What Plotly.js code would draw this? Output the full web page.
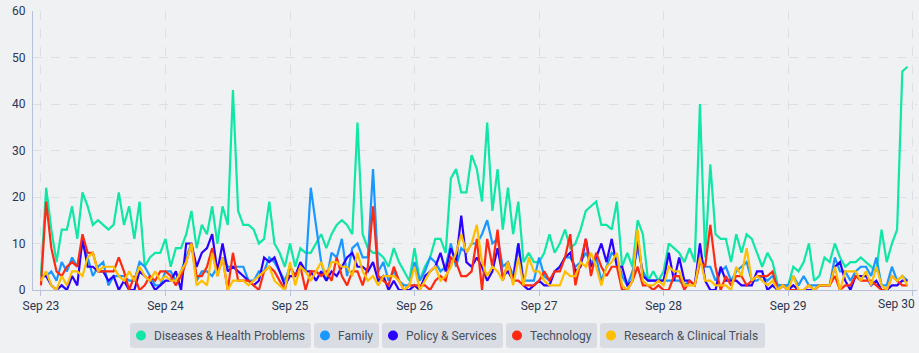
<!DOCTYPE html>
<html>
<head>
<meta charset="utf-8">
<script src="https://cdn.plot.ly/plotly-3.0.1.min.js"></script>
<style>
  html, body { margin: 0; padding: 0; background: #f0f1f3; }
  #chart { width: 919px; height: 353px; }
</style>
</head>
<body>
<div id="chart"></div>
<script>
// ---- Data (hourly counts, Sep 23 00:00 .. Sep 29 23:00) ----
const startTime = '2024-09-23T00:00:00';
const hoursCount = 168;

const seriesNames = ['Diseases & Health Problems', 'Family', 'Policy & Services', 'Technology', 'Research & Clinical Trials'];
const seriesColors = ['#10e6a6', '#1a98ff', '#2b00ff', '#ff2a12', '#ffbe00'];

const diseases = [
  3,22,13,6,13,13,18,11,21,18,14,15,14,13,14,21,14,18,11,19,5,7,8,8,
  11,5,9,9,12,17,9,14,12,18,10,18,14,43,17,14,14,13,10,11,19,10,8,5,
  10,5,9,8,8,10,12,9,12,14,15,14,12,36,12,9,8,8,7,5,9,6,4,2,
  9,2,5,7,11,11,8,24,26,21,21,29,26,19,36,17,26,13,22,12,19,6,8,6,
  6,8,12,8,10,13,9,10,13,17,18,19,14,14,13,19,5,8,5,15,12,2,4,2,
  4,10,9,8,6,9,6,40,7,27,12,11,11,6,12,8,12,11,8,5,8,6,1,1,
  1,5,4,6,10,2,3,7,6,10,7,5,6,6,7,6,5,4,13,6,10,13,47,48
];
const family = [
  3,3,4,2,6,4,7,5,10,7,3,5,6,1,3,3,3,2,2,6,5,3,1,1,
  4,4,2,4,7,10,2,4,4,3,5,7,5,5,5,5,2,2,4,4,7,6,4,2,
  5,3,5,4,22,14,6,2,8,7,11,3,9,10,7,7,26,4,6,2,4,2,1,1,
  6,2,4,7,6,4,5,10,5,9,8,10,10,12,15,10,11,5,6,3,10,2,2,2,
  7,3,2,4,5,7,7,5,6,8,6,7,2,5,8,7,3,1,4,9,4,2,2,2,
  2,2,2,2,1,2,1,7,5,5,2,4,5,2,4,5,6,2,2,3,2,3,1,1,
  1,3,1,3,1,1,1,1,1,7,4,4,2,4,5,5,3,7,1,1,5,2,3,2
];
const policy = [
  3,3,1,0,1,0,3,1,11,5,5,4,4,2,3,0,2,0,0,4,3,2,0,1,
  2,2,4,0,10,10,5,8,9,12,4,10,4,5,4,3,2,1,2,7,6,7,4,1,
  3,3,6,4,4,2,4,2,4,3,5,7,8,5,5,4,6,2,3,0,2,0,0,0,
  1,0,3,4,5,8,4,9,6,16,6,5,7,5,2,4,9,3,4,2,10,1,0,1,
  2,1,1,4,5,7,8,4,5,11,5,7,10,6,11,5,5,1,2,11,3,2,2,2,
  2,8,2,7,2,2,1,10,2,0,0,5,2,2,2,1,1,1,4,4,0,1,0,1,
  0,1,0,0,0,0,1,1,1,5,6,2,0,3,3,3,1,2,0,0,1,1,2,2
];
const technology = [
  1,19,9,4,3,5,6,5,12,8,8,4,4,4,4,7,4,0,3,0,1,3,2,4,
  4,3,1,3,6,10,3,3,5,9,3,7,0,8,2,2,2,1,0,4,5,4,2,0,
  5,3,5,0,4,4,3,4,2,7,3,1,4,4,1,5,18,3,2,1,5,2,0,1,
  1,1,1,0,2,3,2,7,6,3,3,4,11,0,11,5,13,2,6,2,2,1,1,1,
  2,4,2,4,4,7,12,1,6,11,3,8,5,3,5,5,0,0,2,5,1,1,0,1,
  0,0,3,3,0,2,1,6,5,14,5,0,3,1,3,3,1,2,3,3,3,4,0,1,
  0,0,0,0,1,0,1,1,1,3,0,1,1,3,2,2,2,1,0,0,3,2,1,1
];
const research = [
  2,4,1,0,3,1,4,4,3,7,8,4,5,5,5,3,2,4,2,5,3,2,4,2,
  3,2,2,4,6,10,1,2,1,8,3,7,0,2,2,2,1,2,3,4,5,2,1,0,
  6,1,5,4,2,4,6,3,6,6,5,5,3,8,4,2,3,1,3,3,3,2,0,1,
  5,0,2,4,5,2,3,5,8,12,8,10,14,6,3,5,4,2,6,1,7,1,7,4,
  4,2,1,1,1,4,3,3,6,5,8,5,1,5,6,8,1,0,2,13,2,1,1,2,
  1,5,4,4,1,1,1,7,2,2,1,1,1,0,5,3,9,2,3,2,1,2,0,1,
  0,3,0,0,1,0,1,1,1,5,0,4,4,4,2,4,1,5,1,0,3,2,3,1
];
const xTickDates = ['2024-09-23','2024-09-24','2024-09-25','2024-09-26','2024-09-27','2024-09-28','2024-09-29','2024-09-30'];
const xTickLabels = ['Sep 23','Sep 24','Sep 25','Sep 26','Sep 27','Sep 28','Sep 29','Sep 30'];
const yTickValues = [0, 10, 20, 30, 40, 50, 60];

// ---- Build ----
const seriesValues = [diseases, family, policy, technology, research];
const t0 = new Date(startTime + 'Z').getTime();
function isoHour(i) {
  const d = new Date(t0 + i * 3600000);
  return d.toISOString().slice(0, 19).replace('T', ' ');
}
const xs = [];
for (let i = 0; i < hoursCount; i++) xs.push(isoHour(i));

const traces = seriesValues.map((vals, k) => ({
  type: 'scatter',
  mode: 'lines',
  name: seriesNames[k],
  x: xs,
  y: vals,
  line: { color: seriesColors[k], width: 2.2 },
  showlegend: false,
  hoverinfo: 'skip'
}));

// geometry of the plot area (pixels)
const W = 919, H = 353;
const mL = 33, mR = 2, mT = 11, mB = 63;
const pw = W - mL - mR, ph = H - mT - mB;
const px2paperX = px => (px - mL) / pw;
const py2paperY = py => (H - mB - py) / ph;

const xRange = ['2024-09-22 22:28', '2024-09-30 00:50'];

// last tick label is kept inside the chart (right-aligned near its tick)
const lastIdx = xTickLabels.length - 1;
const shownTickText = xTickLabels.map((t, i) => (i === lastIdx ? '' : t));

// custom legend chips
const chips = [
  { x0: 130, x1: 311 },
  { x0: 314, x1: 379 },
  { x0: 382, x1: 503 },
  { x0: 506, x1: 597 },
  { x0: 600, x1: 765 }
];
const chipCY = 335.5, chipH = 25, r = 3;
const shapes = [];
const annotations = [];
chips.forEach((c, k) => {
  const w = c.x1 - c.x0, hh = chipH / 2;
  const path = `M ${r} ${-hh} L ${w - r} ${-hh} Q ${w} ${-hh} ${w} ${-hh + r} L ${w} ${hh - r} Q ${w} ${hh} ${w - r} ${hh} L ${r} ${hh} Q 0 ${hh} 0 ${hh - r} L 0 ${-hh + r} Q 0 ${-hh} ${r} ${-hh} Z`;
  shapes.push({
    type: 'path', xref: 'paper', yref: 'paper',
    xsizemode: 'pixel', ysizemode: 'pixel',
    xanchor: px2paperX(c.x0), yanchor: py2paperY(chipCY),
    path: path, fillcolor: '#d9dce2', line: { width: 0 }, layer: 'below'
  });
  shapes.push({
    type: 'circle', xref: 'paper', yref: 'paper',
    xsizemode: 'pixel', ysizemode: 'pixel',
    xanchor: px2paperX(c.x0 + 11), yanchor: py2paperY(chipCY),
    x0: -5, x1: 5, y0: -5, y1: 5,
    fillcolor: seriesColors[k], line: { width: 0 }
  });
  annotations.push({
    xref: 'paper', yref: 'paper',
    x: px2paperX(c.x0 + 22), y: py2paperY(chipCY),
    xanchor: 'left', yanchor: 'middle', showarrow: false,
    text: seriesNames[k],
    font: { family: 'Roboto, sans-serif', size: 12, color: '#474e5e' }
  });
});

annotations.push({
  xref: 'x', yref: 'paper',
  x: xTickDates[lastIdx], y: 0,
  xanchor: 'right', yanchor: 'top', xshift: 4, yshift: -5, showarrow: false,
  text: xTickLabels[lastIdx],
  font: { family: 'Roboto, sans-serif', size: 12, color: '#2b3552' }
});

const layout = {
  width: W, height: H,
  margin: { l: mL, r: mR, t: mT, b: mB, pad: 0 },
  paper_bgcolor: '#f0f1f3',
  plot_bgcolor: '#f0f1f3',
  font: { family: 'Roboto, sans-serif', size: 12, color: '#2b3552' },
  showlegend: false,
  xaxis: {
    type: 'date',
    range: xRange,
    tickmode: 'array',
    tickvals: xTickDates,
    ticktext: shownTickText,
    showgrid: true,
    gridcolor: '#dcdfe5',
    griddash: 'dash',
    gridwidth: 1,
    showline: true,
    linecolor: '#b7c1db',
    linewidth: 1,
    ticks: 'outside',
    ticklen: 5,
    tickcolor: '#b7c1db',
    tickfont: { family: 'Roboto, sans-serif', size: 12, color: '#2b3552' },
    zeroline: false,
    fixedrange: true
  },
  yaxis: {
    range: [0, 60],
    tickvals: yTickValues,
    showgrid: true,
    gridcolor: '#dcdfe5',
    griddash: 'dash',
    gridwidth: 1,
    showline: true,
    linecolor: '#b7c1db',
    linewidth: 1,
    ticks: '',
    ticklabelstandoff: 4,
    tickfont: { family: 'Roboto, sans-serif', size: 12, color: '#2b3552' },
    zeroline: false,
    fixedrange: true
  },
  shapes: shapes,
  annotations: annotations,
  hovermode: false
};

Plotly.newPlot('chart', traces, layout, { displayModeBar: false, staticPlot: true });
</script>
</body>
</html>
